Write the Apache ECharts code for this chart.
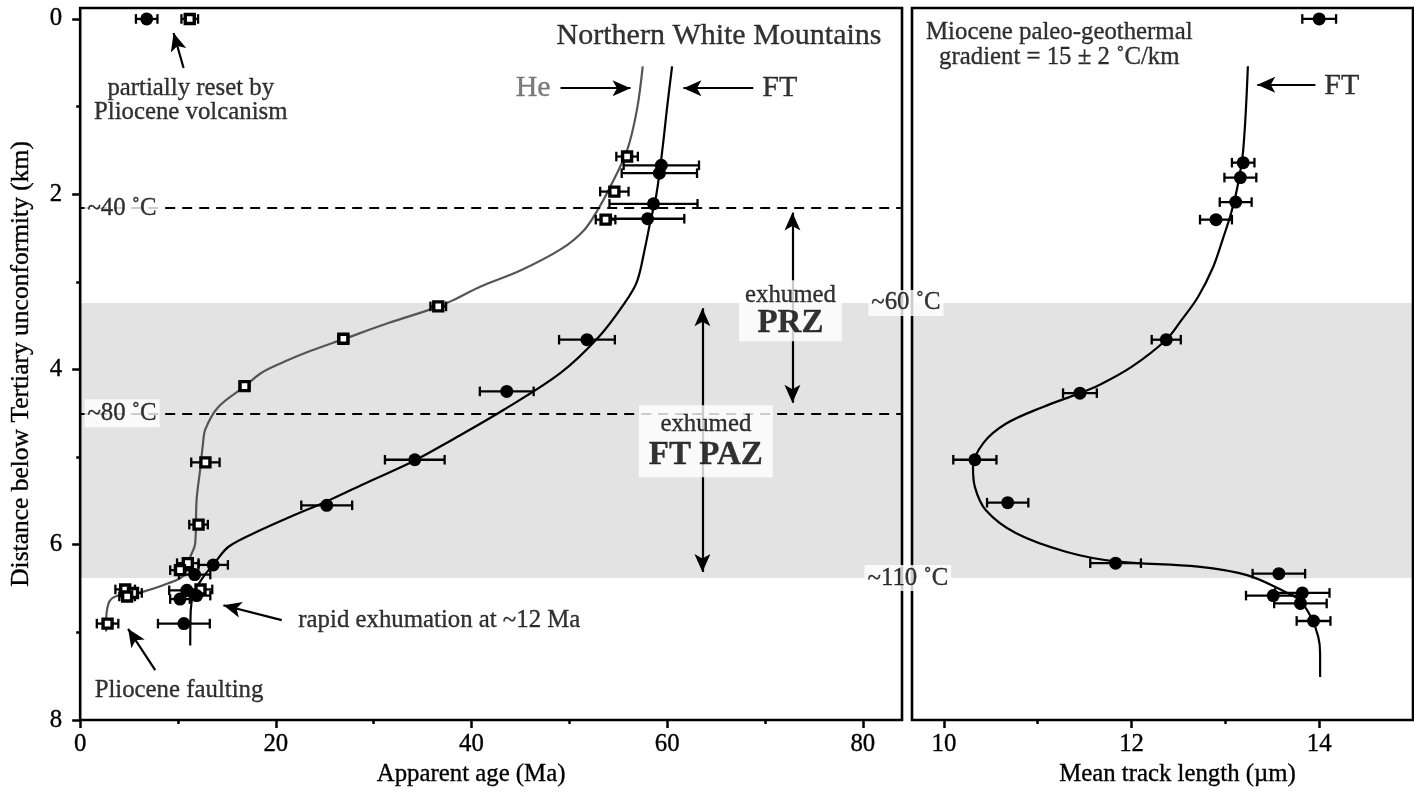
<!DOCTYPE html>
<html><head><meta charset="utf-8">
<script src="https://cdn.jsdelivr.net/npm/echarts@6/dist/echarts.min.js"></script>
<style>html,body{margin:0;padding:0;background:#fff}#c{width:1414px;height:793px}</style>
</head><body><div id="c"></div>
<script>
// ---------- data ----------
// fission-track (FT) apparent age: [age Ma, depth km, 1-sigma error Ma]
const ftAgeData = [
  [6.8, 0.00, 1.1], [59.4, 1.67, 3.85], [59.2, 1.76, 3.85], [58.6, 2.11, 4.5],
  [58.0, 2.28, 3.75], [51.8, 3.66, 2.85], [43.6, 4.25, 2.75], [34.2, 5.03, 3.05],
  [25.2, 5.55, 2.6], [13.6, 6.23, 1.5], [11.7, 6.34, 1.6], [10.9, 6.52, 1.8],
  [11.9, 6.58, 1.4], [10.2, 6.62, 1.0], [10.6, 6.90, 2.65]
];
// (U-Th)/He apparent age: [age Ma, depth km, error Ma]
const heAgeData = [
  [11.2, 0.00, 0.85], [55.9, 1.57, 1.1], [54.6, 1.97, 1.45], [53.7, 2.29, 1.0],
  [36.6, 3.28, 0.8], [26.9, 3.65, 0.5], [16.8, 4.19, 0.5], [12.8, 5.06, 1.45],
  [12.1, 5.77, 0.95], [11.0, 6.21, 1.1], [10.2, 6.29, 1.0], [4.6, 6.51, 1.0],
  [12.3, 6.51, 1.2], [5.4, 6.55, 0.9], [4.8, 6.59, 0.8], [2.8, 6.90, 1.1]
];
// FT mean track length: [length um, depth km, error um]
const ftLengthData = [
  [14.0, 0.00, 0.18], [13.19, 1.64, 0.12], [13.16, 1.81, 0.17], [13.11, 2.09, 0.17],
  [12.90, 2.29, 0.17], [12.37, 3.66, 0.155], [11.45, 4.27, 0.18], [10.33, 5.03, 0.23],
  [10.68, 5.52, 0.22], [11.83, 6.21, 0.27], [13.57, 6.33, 0.28], [13.82, 6.55, 0.29],
  [13.51, 6.58, 0.29], [13.80, 6.67, 0.28], [13.94, 6.87, 0.18]
];
// model curves [x, depth]
const ftAgeCurve = [
  [60.5,0.54],[60.0,1.0],[59.5,1.5],[58.9,2.0],[58.3,2.3],[57.7,2.63],[56.9,3.0],
  [55.6,3.25],[53.0,3.63],[49.1,4.04],[43.3,4.46],[37.9,4.81],[34.0,5.05],[29.5,5.28],
  [25.3,5.50],[21.5,5.68],[18.5,5.83],[15.2,6.02],[13.8,6.2],[12.5,6.38],[11.6,6.56],
  [11.3,6.75],[11.25,7.15]
];
const heAgeCurve = [
  [57.5,0.54],[56.9,1.04],[55.9,1.5],[54.2,1.91],[53.0,2.16],[51.5,2.41],[49.1,2.63],
  [45.0,2.87],[41.0,3.05],[37.9,3.22],[36.2,3.30],[31.5,3.47],[27.0,3.65],[23.5,3.79],
  [20.9,3.91],[18.5,4.04],[16.85,4.19],[14.1,4.43],[12.8,4.68],[12.55,4.85],[12.3,5.11],
  [11.9,5.49],[11.75,5.99],[11.25,6.14],[10.6,6.35],[9.0,6.44],[6.3,6.54],[3.6,6.59],
  [2.9,6.67],[2.65,6.90],[2.65,6.99]
];
const ftLengthCurve = [
  [13.24,0.54],[13.19,1.5],[13.13,1.91],[13.06,2.22],[12.97,2.52],[12.87,2.83],[12.71,3.17],
  [12.53,3.44],[12.37,3.66],[12.0,3.97],[11.65,4.18],[11.45,4.27],[11.05,4.43],[10.66,4.62],
  [10.42,4.84],[10.31,5.11],[10.33,5.34],[10.45,5.61],[10.77,5.87],[11.30,6.08],[11.83,6.19],
  [12.71,6.25],[13.24,6.35],[13.66,6.55],[13.79,6.63],[13.91,6.82],[13.99,7.05],[14.01,7.24],
  [14.01,7.51]
];
const ageTicks = [0, 20, 40, 60, 80];
const ageMinorTicks = [10, 30, 50, 70];
const lengthTicks = [10, 12, 14];
const lengthMinorTicks = [11, 13];
const depthTicks = [0, 2, 4, 6, 8];
const depthMinorTicks = [1, 3, 5, 7];
const isothermDepths = [2.16, 4.50];     // ~40 C, ~80 C
const bandDepths = [3.24, 6.38];         // ~60 C to ~110 C

// ---------- chart ----------
const FONT = 'Liberation Serif';
const FS = 24.8;
const TB = {textBorderColor: '#000', textBorderWidth: 0.35};
const AGE_MIN = 0, AGE_MAX = 84, LEN_MIN = 9.66, LEN_MAX = 15, DEP_MIN = -0.125, DEP_MAX = 8;

function errRender(params, api) {
  const x = api.value(0), y = api.value(1), e = api.value(2);
  const a = api.coord([x - e, y]), b = api.coord([x + e, y]);
  const h = 4.8, st = {stroke: '#000', lineWidth: 2.3};
  return {type: 'group', children: [
    {type: 'line', shape: {x1: a[0], y1: a[1], x2: b[0], y2: b[1]}, style: st},
    {type: 'line', shape: {x1: a[0], y1: a[1] - h, x2: a[0], y2: a[1] + h}, style: st},
    {type: 'line', shape: {x1: b[0], y1: b[1] - h, x2: b[0], y2: b[1] + h}, style: st}
  ]};
}
function note(x, y, text, extra) {
  return {value: [x, y], label: Object.assign({show: true, position: 'inside', formatter: text,
    fontFamily: FONT, fontSize: FS, color: '#000', lineHeight: 24, textShadowBlur: 0}, TB, extra || {})};
}
function arrow(x1, y1, x2, y2, both) {
  return [{coord: [x1, y1], symbol: both ? 'arrow' : 'none'}, {coord: [x2, y2], symbol: 'arrow'}];
}
const lbl = Object.assign({fontFamily: FONT, fontSize: FS, color: '#000'}, TB);

function mainX(grid, min, max, ticks, name, pad) {
  return {type: 'value', gridIndex: grid, min: min, max: max, position: 'bottom', z: 4,
    axisLine: {show: false, onZero: false}, splitLine: {show: false},
    axisTick: {show: true, customValues: ticks, length: 8, lineStyle: {color: '#000', width: 2.5}},
    axisLabel: Object.assign({customValues: ticks, margin: 12}, lbl),
    name: name, nameLocation: 'middle', nameGap: 42,
    nameTextStyle: Object.assign({padding: pad}, lbl)};
}
function minorX(grid, min, max, ticks) {
  return {type: 'value', gridIndex: grid, min: min, max: max, position: 'bottom', offset: 0, z: 4,
    axisLine: {show: false, onZero: false}, splitLine: {show: false}, axisLabel: {show: false},
    axisTick: {show: true, customValues: ticks, length: 4, lineStyle: {color: '#000', width: 2.5}}};
}

const option = {
  animation: false,
  textStyle: {fontFamily: FONT},
  grid: [
    {left: 78, top: 8, width: 824, height: 712, show: true, borderColor: '#000', borderWidth: 2.6, z: 3, backgroundColor: 'transparent'},
    {left: 912, top: 8, width: 501, height: 712, show: true, borderColor: '#000', borderWidth: 2.6, z: 3, backgroundColor: 'transparent'}
  ],
  xAxis: [
    mainX(0, AGE_MIN, AGE_MAX, ageTicks, 'Apparent age (Ma)', [0, 40, 0, 0]),
    minorX(0, AGE_MIN, AGE_MAX, ageMinorTicks),
    mainX(1, LEN_MIN, LEN_MAX, lengthTicks, 'Mean track length (µm)', [0, 0, 0, 30]),
    minorX(1, LEN_MIN, LEN_MAX, lengthMinorTicks)
  ],
  yAxis: [
    {type: 'value', gridIndex: 0, min: DEP_MIN, max: DEP_MAX, inverse: true, position: 'left', z: 4,
      axisLine: {show: false, onZero: false}, splitLine: {show: false},
      axisTick: {show: true, customValues: depthTicks, length: 8, lineStyle: {color: '#000', width: 2.5}},
      axisLabel: Object.assign({customValues: depthTicks, margin: 18}, lbl),
      name: 'Distance below Tertiary unconformity (km)', nameLocation: 'middle', nameGap: 46, nameRotate: 90,
      nameTextStyle: Object.assign({}, lbl, {fontSize: 25.5})},
    {type: 'value', gridIndex: 0, min: DEP_MIN, max: DEP_MAX, inverse: true, position: 'left', offset: 0, z: 4,
      axisLine: {show: false, onZero: false}, splitLine: {show: false}, axisLabel: {show: false},
      axisTick: {show: true, customValues: depthMinorTicks, length: 4, lineStyle: {color: '#000', width: 2.5}}},
    {type: 'value', gridIndex: 1, min: DEP_MIN, max: DEP_MAX, inverse: true, position: 'left',
      axisLine: {show: false, onZero: false}, splitLine: {show: false}, axisLabel: {show: false}, axisTick: {show: false}}
  ],
  series: [
    // He curve + band + isotherm lines (left)
    {type: 'line', xAxisIndex: 0, yAxisIndex: 0, data: heAgeCurve, smooth: 0.35, showSymbol: false, silent: true, z: 2,
      lineStyle: {color: '#555', width: 2.2},
      markArea: {silent: true, z: 1, itemStyle: {color: '#e3e3e3'},
        data: [[{yAxis: bandDepths[0]}, {yAxis: bandDepths[1]}]]},
      markLine: {silent: true, symbol: ['none', 'none'], label: {show: false},
        lineStyle: {color: '#000', width: 2, type: [10, 7]},
        data: isothermDepths.map(d => ({yAxis: d}))}
    },
    // FT age curve + arrows (left)
    {type: 'line', xAxisIndex: 0, yAxisIndex: 0, data: ftAgeCurve, smooth: 0.35, showSymbol: false, silent: true, z: 2,
      lineStyle: {color: '#000', width: 2.2},
      markLine: {silent: true, symbolSize: [12, 18], label: {show: false},
        lineStyle: {color: '#000', width: 2.2, type: 'solid'},
        data: [
          arrow(10.57, 0.56, 9.55, 0.16),
          arrow(49.1, 0.79, 56.25, 0.79),
          arrow(68.8, 0.79, 61.66, 0.79),
          arrow(72.8, 2.21, 72.8, 4.38, true),
          arrow(63.6, 3.30, 63.6, 6.31, true),
          arrow(20.6, 6.86, 14.64, 6.69),
          arrow(7.67, 7.43, 4.9, 6.96)
        ]}
    },
    // FT length curve + band + arrow (right)
    {type: 'line', xAxisIndex: 2, yAxisIndex: 2, data: ftLengthCurve, smooth: 0.35, showSymbol: false, silent: true, z: 2,
      lineStyle: {color: '#000', width: 2.2},
      markArea: {silent: true, z: 1, itemStyle: {color: '#e3e3e3'},
        data: [[{yAxis: bandDepths[0]}, {yAxis: bandDepths[1]}]]},
      markLine: {silent: true, symbolSize: [12, 18], label: {show: false},
        lineStyle: {color: '#000', width: 2.2, type: 'solid'},
        data: [arrow(13.96, 0.75, 13.34, 0.75)]}
    },
    // error bars
    {type: 'custom', xAxisIndex: 0, yAxisIndex: 0, data: heAgeData, renderItem: errRender, encode: {x: 0, y: 1}, silent: true, z: 4},
    {type: 'custom', xAxisIndex: 0, yAxisIndex: 0, data: ftAgeData, renderItem: errRender, encode: {x: 0, y: 1}, silent: true, z: 4},
    {type: 'custom', xAxisIndex: 2, yAxisIndex: 2, data: ftLengthData, renderItem: errRender, encode: {x: 0, y: 1}, silent: true, z: 4},
    // markers
    {type: 'scatter', xAxisIndex: 0, yAxisIndex: 0, data: heAgeData.map(d => [d[0], d[1]]), symbol: 'rect', symbolSize: 9,
      itemStyle: {color: '#fff', borderColor: '#000', borderWidth: 3.4, opacity: 1}, silent: true, z: 5},
    {type: 'scatter', xAxisIndex: 0, yAxisIndex: 0, data: ftAgeData.map(d => [d[0], d[1]]), symbol: 'circle', symbolSize: 13,
      itemStyle: {color: '#000', opacity: 1}, silent: true, z: 6},
    {type: 'scatter', xAxisIndex: 2, yAxisIndex: 2, data: ftLengthData.map(d => [d[0], d[1]]), symbol: 'circle', symbolSize: 13,
      itemStyle: {color: '#000', opacity: 1}, silent: true, z: 6},
    // annotations (left panel)
    {type: 'scatter', xAxisIndex: 0, yAxisIndex: 0, symbolSize: 1, itemStyle: {color: 'rgba(0,0,0,0)'}, silent: true, clip: false, z: 10,
      data: [
        note(65.3, 0.194, 'Northern White Mountains', {fontSize: 30}),
        note(46.3, 0.79, 'He', {fontSize: 30, color: '#5c5c5c', textBorderColor: '#5c5c5c'}),
        note(71.5, 0.79, 'FT', {fontSize: 30}),
        note(11.3, 0.925, 'partially reset by\nPliocene volcanism', {lineHeight: 24}),
        note(4.28, isothermDepths[0], '~40 ˚C', {backgroundColor: '#fff', padding: [2, 3]}),
        note(4.28, isothermDepths[1], '~80 ˚C', {backgroundColor: '#fff', padding: [2, 3]}),
        note(72.6, 3.33, '{a|exhumed}\n{b|PRZ}', {backgroundColor: '#fff', padding: [3, 6],
          rich: {a: Object.assign({fontFamily: FONT, fontSize: FS, lineHeight: 25, color: '#000'}, TB),
                 b: Object.assign({fontFamily: FONT, fontSize: 33, fontWeight: 'bold', lineHeight: 30, color: '#000'}, TB)}}),
        note(63.95, 4.82, '{a|exhumed}\n{b|FT PAZ}', {backgroundColor: '#fff', padding: [5, 10],
          rich: {a: Object.assign({fontFamily: FONT, fontSize: FS, lineHeight: 28, color: '#000'}, TB),
                 b: Object.assign({fontFamily: FONT, fontSize: 33, fontWeight: 'bold', lineHeight: 34, color: '#000'}, TB)}}),
        note(22.3, 6.86, 'rapid exhumation at ~12 Ma', {align: 'left'}),
        note(10.1, 7.66, 'Pliocene faulting'),
        note(84.4, bandDepths[0], '~60 ˚C', {backgroundColor: '#fff', padding: [1, 3]}),
        note(84.6, bandDepths[1], '~110 ˚C', {backgroundColor: '#fff', padding: [1, 3]})
      ]},
    // annotations (right panel)
    {type: 'scatter', xAxisIndex: 2, yAxisIndex: 2, symbolSize: 1, itemStyle: {color: 'rgba(0,0,0,0)'}, silent: true, clip: false, z: 10,
      data: [
        note(11.23, 0.30, 'Miocene paleo-geothermal\ngradient = 15 ± 2 ˚C/km', {lineHeight: 25}),
        note(14.24, 0.765, 'FT', {fontSize: 30})
      ]}
  ]
};
const chart = echarts.init(document.getElementById('c'));
chart.setOption(option);
</script></body></html>
